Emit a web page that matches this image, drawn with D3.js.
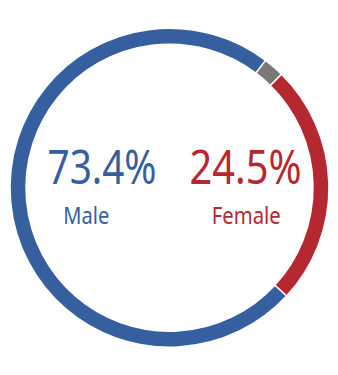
<!DOCTYPE html>
<html>
<head>
<meta charset="utf-8">
<script src="https://cdn.jsdelivr.net/npm/d3@7"></script>
<style>
  body { margin: 0; background: #fff; }
  text { font-family: 'Noto Sans', sans-serif; }
</style>
</head>
<body>
<div id="canvas"></div>
<script>
// data, clockwise order starting from the right side of the ring
const categories = ['Female', 'Male', 'Other']
const values = [24.5, 73.4, 2.1]
const colors = ['#b5282f', '#355f9f', '#7a7777']

const width = 338
const height = 375
const cx = 169.5
const cy = 187.7
const outerR = 159.5
const innerR = 143.5

const svg = d3.select('#canvas').append('svg')
  .attr('width', width)
  .attr('height', height)

const g = svg.append('g').attr('transform', `translate(${cx},${cy})`)

const pie = d3.pie()
  .sort(null)
  .value((d, i) => values[i])
  .startAngle(44.6 * Math.PI / 180)
  .endAngle((44.6 + 360) * Math.PI / 180)

const arc = d3.arc().innerRadius(innerR).outerRadius(outerR)

const color = d3.scaleOrdinal().domain(categories).range(colors)

g.selectAll('path')
  .data(pie(categories))
  .enter()
  .append('path')
  .attr('d', arc)
  .style('fill', (d) => color(d.data))
  .style('stroke', '#fff')
  .style('stroke-width', 1.5)

// big percentages + labels
const fmt = (v) => v.toFixed(1) + '%'
const labels = [
  { name: 'Male', x: 102, w: 109, lx: 86.3, lw: 46 },
  { name: 'Female', x: 245.5, w: 112, lx: 246.3, lw: 69 },
]

labels.forEach((l) => {
  const i = categories.indexOf(l.name)
  svg.append('text')
    .attr('x', l.x)
    .attr('y', 184)
    .attr('text-anchor', 'middle')
    .attr('textLength', l.w)
    .attr('lengthAdjust', 'spacingAndGlyphs')
    .style('font-size', '47px')
    .style('fill', color(l.name))
    .text(fmt(values[i]))
  svg.append('text')
    .attr('x', l.lx)
    .attr('y', 224)
    .attr('text-anchor', 'middle')
    .attr('textLength', l.lw)
    .attr('lengthAdjust', 'spacingAndGlyphs')
    .style('font-size', '23.5px')
    .style('fill', color(l.name))
    .text(l.name)
})
</script>
</body>
</html>
